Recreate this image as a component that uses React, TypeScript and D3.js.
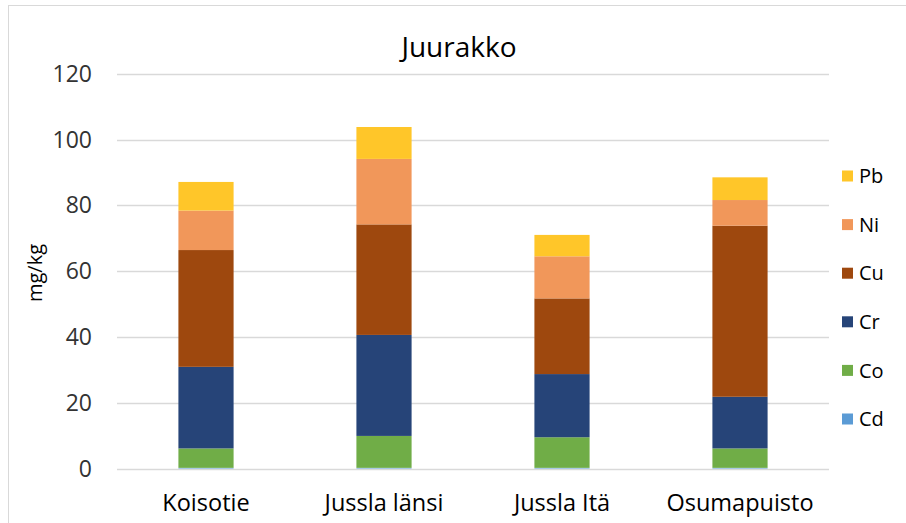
import React from "react";
import * as d3 from "d3";

const categories = ["Koisotie", "Jussla länsi", "Jussla Itä", "Osumapuisto"];
const seriesNames = ["Cd", "Co", "Cr", "Cu", "Ni", "Pb"];
const Cd = [0.2, 0.2, 0.2, 0.2];
const Co = [5.9, 9.7, 9.3, 5.9];
const Cr = [24.8, 30.7, 19.2, 15.7];
const Cu = [35.5, 33.6, 23.0, 52.0];
const Ni = [12.0, 19.9, 12.8, 7.8];
const Pb = [8.7, 9.7, 6.5, 6.9];
const yTicks = [0, 20, 40, 60, 80, 100, 120];
const colors = ["#5B9BD5", "#70AD47", "#264478", "#9E480E", "#F1975A", "#FFC629"];

const W = 906;
const H = 523;
const FONT = "'Open Sans', sans-serif";

export default function App() {
  const values = [Cd, Co, Cr, Cu, Ni, Pb];
  const rows = categories.map((c, i) => {
    const r: any = { cat: c };
    seriesNames.forEach((s, k) => (r[s] = values[k][i]));
    return r;
  });
  const stack = d3.stack<any>().keys(seriesNames)(rows);

  const x = d3.scaleBand().domain(categories).range([117, 829]).paddingInner(0.69).paddingOuter(0.345);
  const y = d3.scaleLinear().domain([0, 120]).range([468.5, 73.7]);

  const legendY = d3.scalePoint().domain([...seriesNames].reverse()).range([176, 419]);

  return (
    <svg width={W} height={H} style={{ position: "absolute", left: 0, top: 0 }}>
      <rect x={0} y={0} width={W} height={H} fill="#fff" />
      <line x1={8.5} y1={5} x2={8.5} y2={H} stroke="#d9d9d9" />
      <line x1={8} y1={5.5} x2={W} y2={5.5} stroke="#d9d9d9" />
      <text x={459} y={57} textAnchor="middle" fontFamily={FONT} fontSize={28} fill="#000">
        Juurakko
      </text>
      {yTicks.map((t) => (
        <g key={t}>
          <line x1={117} x2={829} y1={Math.round(y(t)) + 0.5} y2={Math.round(y(t)) + 0.5} stroke="#d9d9d9" strokeWidth={1.3} />
          <text x={92} y={y(t)} dy="0.35em" textAnchor="end" fontFamily={FONT} fontSize={23} fill="#333">
            {t}
          </text>
        </g>
      ))}
      <text
        transform={`translate(42,273) rotate(-90)`}
        textAnchor="middle"
        fontFamily={FONT}
        fontSize={20}
        fill="#000"
      >
        mg/kg
      </text>
      {stack.map((layer, k) => (
        <g key={layer.key} fill={colors[k]}>
          {layer.map((d, i) => (
            <rect
              key={i}
              x={x(categories[i])}
              width={x.bandwidth()}
              y={y(d[1])}
              height={Math.max(0, y(d[0]) - y(d[1]))}
            />
          ))}
        </g>
      ))}
      {categories.map((c) => (
        <text key={c} x={(x(c) as number) + x.bandwidth() / 2} y={511} textAnchor="middle" fontFamily={FONT} fontSize={23.5} fill="#000">
          {c}
        </text>
      ))}
      {seriesNames.map((s, k) => (
        <g key={s}>
          <rect x={842} y={(legendY(s) as number) - 5.5} width={11} height={11} fill={colors[k]} />
          <text x={859} y={legendY(s)} dy="0.36em" fontFamily={FONT} fontSize={20} fill="#000">
            {s}
          </text>
        </g>
      ))}
    </svg>
  );
}
